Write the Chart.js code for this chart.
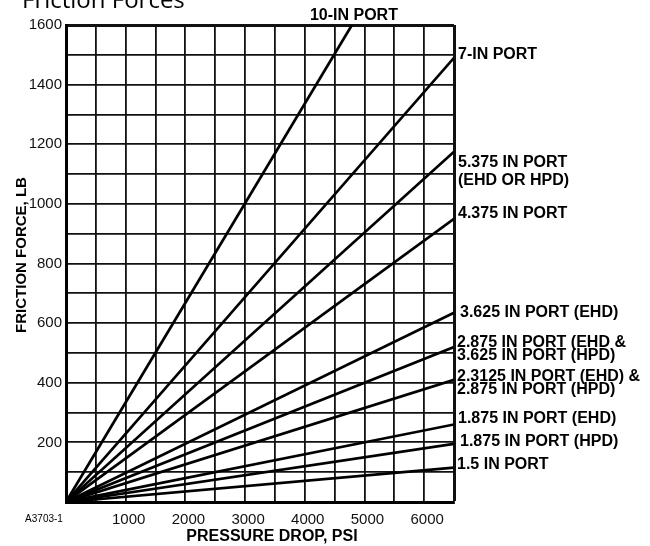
<!DOCTYPE html>
<html>
<head>
<meta charset="utf-8">
<script src="https://cdn.jsdelivr.net/npm/chart.js@4.4.1/dist/chart.umd.min.js"></script>
<style>
  html, body { margin: 0; padding: 0; background: #fff; }
  #wrap { position: relative; width: 650px; height: 546px; }
</style>
</head>
<body>
<div id="wrap"><canvas id="c" width="650" height="546"></canvas></div>
<script>
// ---- Data ----
const seriesLabels = [
  "10-IN PORT",
  "7-IN PORT",
  "5.375 IN PORT\n(EHD OR HPD)",
  "4.375 IN PORT",
  "3.625 IN PORT (EHD)",
  "2.875 IN PORT (EHD &\n3.625 IN PORT (HPD)",
  "2.3125 IN PORT (EHD) &\n2.875 IN PORT (HPD)",
  "1.875 IN PORT (EHD)",
  "1.875 IN PORT (HPD)",
  "1.5 IN PORT"
];
// every line starts at the origin (0 psi, 0 lb)
const startPressure = 0;
const startForce = 0;
// end point of each line (psi, lb)
const endPressure = [4790, 6500, 6500, 6500, 6500, 6500, 6500, 6500, 6500, 6500];
const endForce    = [1600, 1490, 1175, 950, 635, 520, 410, 260, 195, 115];

const xTickValues = [1000, 2000, 3000, 4000, 5000, 6000];
const yTickValues = [200, 400, 600, 800, 1000, 1200, 1400, 1600];

const X_MAX = 6500, Y_MAX = 1600;

// ---- Label placement (layout only) ----
const labelDy  = [0, -3, 11, -5, 0, -4, -3, -6, -2, -3];
const labelDx  = [0, 4, 4, 4, 6, 3, 3, 4, 6, 3];
const lineGap  = [0, 0, 17.5, 0, 0, 12.5, 12.5, 0, 0, 0];

const datasets = seriesLabels.map((name, i) => ({
  label: name,
  data: [{x: startPressure, y: startForce}, {x: endPressure[i], y: endForce[i]}],
  borderColor: '#000',
  borderWidth: 2.7,
  pointRadius: ctx => ctx.dataIndex === 0 ? 4.5 : 0,
  pointBackgroundColor: '#000',
  pointBorderWidth: 0,
  fill: false,
  tension: 0
}));

const FONT = '"Liberation Sans", Arial, Helvetica, sans-serif';

const annot = {
  id: 'annot',
  afterDraw(chart) {
    const ctx = chart.ctx;
    const xs = chart.scales.x, ys = chart.scales.y;
    const area = chart.chartArea;
    ctx.save();
    ctx.fillStyle = '#000';
    // page title (partially cut at top)
    ctx.font = '24px "Open Sans", "Noto Sans", sans-serif';
    ctx.textAlign = 'left';
    ctx.textBaseline = 'alphabetic';
    ctx.fillText('Friction Forces', 22, 8);

    // series labels
    ctx.font = 'bold 16px ' + FONT;
    seriesLabels.forEach((name, i) => {
      const lines = name.split('\n');
      if (endPressure[i] < X_MAX) {
        ctx.textAlign = 'center';
        ctx.textBaseline = 'middle';
        ctx.fillText(lines[0], xs.getPixelForValue(endPressure[i]) + 2, area.top - 9);
      } else {
        ctx.textAlign = 'left';
        ctx.textBaseline = 'middle';
        const y0 = ys.getPixelForValue(endForce[i]) + labelDy[i];
        lines.forEach((ln, k) => ctx.fillText(ln, area.right + labelDx[i], y0 + k * lineGap[i]));
      }
    });

    // axis titles
    ctx.textAlign = 'center';
    ctx.textBaseline = 'middle';
    ctx.font = 'bold 16px ' + FONT;
    ctx.fillText('PRESSURE DROP, PSI', 272, 537);
    ctx.font = 'bold 15px ' + FONT;
    ctx.save();
    ctx.translate(22, 255);
    ctx.rotate(-Math.PI / 2);
    ctx.fillText('FRICTION FORCE, LB', 0, 0);
    ctx.restore();

    // figure code
    ctx.font = '10px ' + FONT;
    ctx.fillText('A3703-1', 44, 519);
    ctx.restore();
  }
};

new Chart(document.getElementById('c'), {
  type: 'line',
  data: { datasets },
  options: {
    responsive: false,
    animation: false,
    devicePixelRatio: 1,
    layout: { padding: { top: 25, right: 196, left: 0, bottom: 0 } },
    plugins: { legend: { display: false }, tooltip: { enabled: false }, title: { display: false } },
    scales: {
      x: {
        type: 'linear',
        min: 0, max: X_MAX,
        afterFit: s => { s.height = 44; },
        ticks: {
          stepSize: 500,
          autoSkip: false,
          maxRotation: 0,
          padding: 9,
          labelOffset: 3,
          color: '#111',
          font: { family: FONT, size: 15 },
          callback: v => xTickValues.includes(v) ? String(v) : ''
        },
        grid: {
          color: '#111',
          lineWidth: c => (c.tick && c.tick.value === X_MAX) ? 3 : 1.8,
          drawTicks: false
        },
        border: { color: '#000', width: 3 }
      },
      y: {
        min: 0, max: Y_MAX,
        afterFit: s => { s.width = 66; },
        ticks: {
          stepSize: 100,
          autoSkip: false,
          padding: 4,
          color: '#111',
          font: { family: FONT, size: 15 },
          callback: v => yTickValues.includes(v) ? String(v) : ''
        },
        grid: {
          color: '#111',
          lineWidth: c => (c.tick && c.tick.value === Y_MAX) ? 3 : 1.8,
          drawTicks: false
        },
        border: { color: '#000', width: 3 }
      }
    }
  },
  plugins: [annot]
});
</script>
</body>
</html>
